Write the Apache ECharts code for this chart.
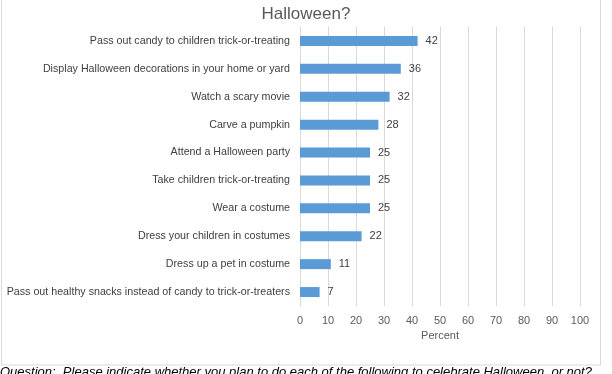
<!DOCTYPE html>
<html><head><meta charset="utf-8">
<script src="https://cdn.jsdelivr.net/npm/echarts@6/dist/echarts.min.js"></script>
<style>html,body{margin:0;padding:0;background:#fff}#c{width:612px;height:374px}</style>
</head><body><div id="c"></div>
<script>
const titleText = 'Halloween?';
const categories = [
  'Pass out candy to children trick-or-treating',
  'Display Halloween decorations in your home or yard',
  'Watch a scary movie',
  'Carve a pumpkin',
  'Attend a Halloween party',
  'Take children trick-or-treating',
  'Wear a costume',
  'Dress your children in costumes',
  'Dress up a pet in costume',
  'Pass out healthy snacks instead of candy to trick-or-treaters'
];
const values = [42, 36, 32, 28, 25, 25, 25, 22, 11, 7];
const axisName = 'Percent';
const footnote = 'Question:  Please indicate whether you plan to do each of the following to celebrate Halloween, or not?';

const chart = echarts.init(document.getElementById('c'));
chart.setOption({
  animation: false,
  title: {text: titleText, left: 301, top: 1, textAlign: 'center',
    textStyle: {fontFamily: 'Liberation Sans', fontSize: 17, fontWeight: 'normal', color: '#595959'}},
  graphic: [
    {type: 'rect', shape: {x: 1.5, y: -5, width: 599, height: 370}, style: {fill: 'none', stroke: '#d9d9d9', lineWidth: 1}, silent: true},
    {type: 'text', left: 0, top: 366, style: {text: footnote, font: 'italic 13px Liberation Sans', fill: '#000'}}
  ],
  grid: {left: 300, right: 32, top: 27, bottom: 68, containLabel: false},
  xAxis: {type: 'value', min: 0, max: 100, interval: 10,
    name: axisName, nameLocation: 'middle', nameGap: 21,
    nameTextStyle: {fontFamily: 'Liberation Sans', fontSize: 11, color: '#595959'},
    axisLine: {show: false}, axisTick: {show: false},
    axisLabel: {fontFamily: 'Liberation Sans', fontSize: 11, color: '#595959', margin: 9},
    splitLine: {lineStyle: {color: '#d9d9d9', width: 1}}},
  yAxis: {type: 'category', data: categories, inverse: true,
    axisLine: {show: true, lineStyle: {color: '#d9d9d9'}}, axisTick: {show: false},
    axisLabel: {fontFamily: 'Liberation Sans', fontSize: 10.7, color: '#404040', margin: 10}},
  series: [{type: 'bar', data: values, barWidth: 10,
    itemStyle: {color: '#5b9bd5'},
    label: {show: true, position: 'right', distance: 8, fontFamily: 'Liberation Sans', fontSize: 11, color: '#404040'}}]
});
</script></body></html>
